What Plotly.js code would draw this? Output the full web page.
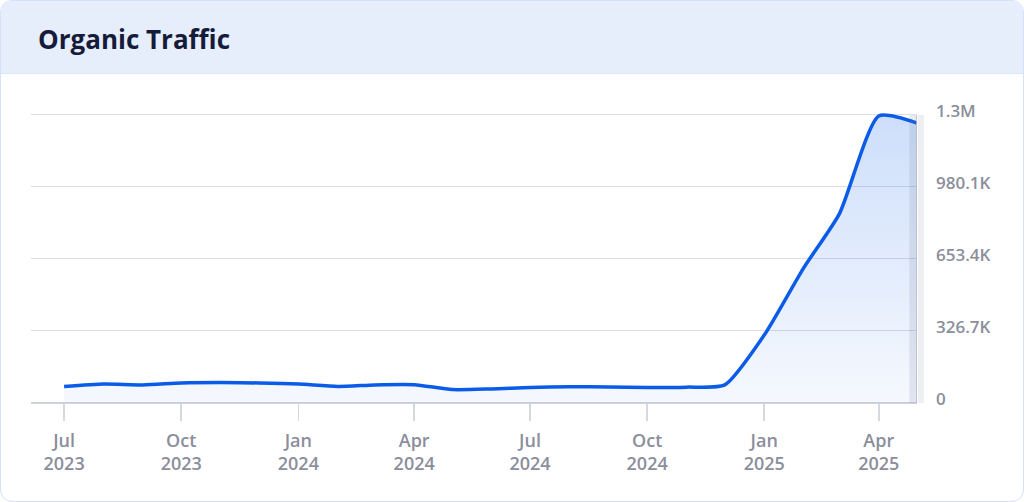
<!DOCTYPE html>
<html>
<head>
<meta charset="utf-8">
<script src="https://cdn.plot.ly/plotly-3.0.1.min.js"></script>
<style>
  html, body { margin: 0; padding: 0; background: #ffffff; }
  #card {
    position: absolute; left: 0; top: 0; width: 1024px; height: 502px;
    box-sizing: border-box; border: 1.5px solid #d5e1f6; border-radius: 12px;
    overflow: hidden; background: #ffffff;
  }
  #head { height: 72px; background: #e6eefc; border-bottom: 1px solid #dde7f8; }
  #chart { position: absolute; left: 0; top: 0; width: 1024px; height: 502px; }
</style>
</head>
<body>
<div id="card"><div id="head"></div></div>
<div id="chart"></div>
<script>
// monthly organic traffic
const months = [
  '2023-07-01', '2023-08-01', '2023-09-01', '2023-10-01', '2023-11-01', '2023-12-01',
  '2024-01-01', '2024-02-01', '2024-03-01', '2024-04-01', '2024-05-01', '2024-06-01',
  '2024-07-01', '2024-08-01', '2024-09-01', '2024-10-01', '2024-11-01', '2024-12-01',
  '2025-01-01', '2025-02-01', '2025-03-01', '2025-04-01', '2025-05-01'
];
const traffic = [
  75000, 86000, 82000, 91000, 93000, 91000,
  86000, 75000, 82000, 83000, 61000, 64000,
  70000, 74000, 73000, 70000, 72000, 82000,
  308000, 613000, 858000, 1302000, 1270000
];

const xTickVals = ['2023-07-01', '2023-10-01', '2024-01-01', '2024-04-01', '2024-07-01', '2024-10-01', '2025-01-01', '2025-04-01'];
const xTickText = ['Jul<br>2023', 'Oct<br>2023', 'Jan<br>2024', 'Apr<br>2024', 'Jul<br>2024', 'Oct<br>2024', 'Jan<br>2025', 'Apr<br>2025'];
const yTickVals = [0, 326700, 653400, 980100, 1306800];
const yTickText = ['0', '326.7K', '653.4K', '980.1K', '1.3M'];

const trafficLine = {
  x: months,
  y: traffic,
  type: 'scatter',
  mode: 'lines',
  line: { color: '#0a5ce8', width: 3.5, shape: 'spline', smoothing: 0.6 },
  fill: 'tozeroy',
  fillgradient: {
    type: 'vertical',
    start: 0,
    stop: 1306800,
    colorscale: [[0, 'rgba(10,92,232,0.04)'], [1, 'rgba(10,92,232,0.2)']]
  },
  hoverinfo: 'skip'
};

Plotly.newPlot('chart', [trafficLine], {
  width: 1024,
  height: 502,
  margin: { l: 31, r: 107, t: 112, b: 99 },
  paper_bgcolor: 'rgba(0,0,0,0)',
  plot_bgcolor: 'rgba(0,0,0,0)',
  showlegend: false,
  title: {
    text: '<b>Organic Traffic</b>',
    font: { family: 'Open Sans, sans-serif', size: 26, color: '#171b3a' },
    xref: 'container', yref: 'container',
    x: 38 / 1024, xanchor: 'left',
    y: 1 - 40 / 502, yanchor: 'middle'
  },
  xaxis: {
    type: 'date',
    range: ['2023-06-05', '2025-05-01'],
    showgrid: false,
    zeroline: false,
    showline: false,
    tickvals: xTickVals,
    ticktext: xTickText,
    ticks: 'outside',
    ticklen: 17,
    tickwidth: 1.5,
    tickcolor: '#d6d8df',
    ticklabelstandoff: 4,
    tickfont: { family: 'Open Sans, sans-serif', size: 18, color: '#8b8e9b', weight: 600 }
  },
  yaxis: {
    range: [0, 1320000],
    side: 'right',
    tickvals: yTickVals,
    ticktext: yTickText,
    ticks: '',
    showgrid: true,
    gridcolor: '#dcdee5',
    gridwidth: 1,
    zeroline: true,
    zerolinecolor: '#cfd2da',
    zerolinewidth: 2,
    ticklabelstandoff: 18,
    ticklabelshift: -4,
    tickfont: { family: 'Open Sans, sans-serif', size: 17, color: '#8b8e9b', weight: 600 }
  },
  shapes: [
    { type: 'rect', xref: 'x', yref: 'y', x0: '2025-04-25', x1: '2025-05-01', y0: 0, y1: 1306800,
      fillcolor: 'rgba(110,120,150,0.15)', line: { width: 0 }, layer: 'above' },
    { type: 'line', xref: 'x', yref: 'y', x0: '2025-05-01', x1: '2025-05-01', y0: 0, y1: 1306800,
      line: { color: '#b4b8c3', width: 1.5 } },
    { type: 'rect', xref: 'paper', yref: 'y', x0: 1.001, x1: 1.008, y0: 0, y1: 1306800,
      fillcolor: '#eeeff2', line: { width: 0 } }
  ]
}, { displayModeBar: false, staticPlot: true });
</script>
</body>
</html>
